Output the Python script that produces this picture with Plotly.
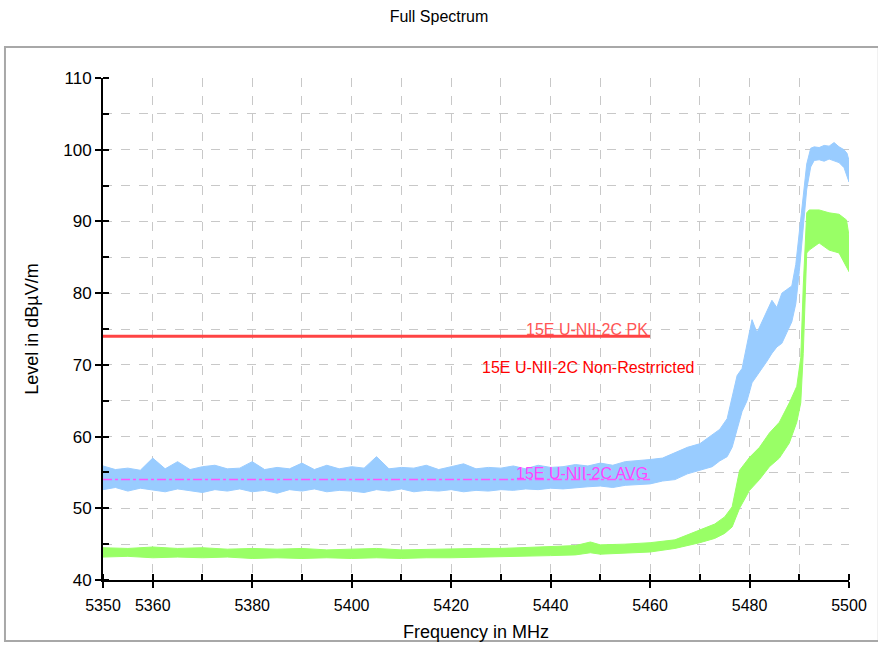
import plotly.graph_objects as go

# ---- data ----
pk_freq = [5350, 5352.5, 5355, 5357.5, 5360, 5362.5, 5365, 5367.5, 5370, 5372.5, 5375, 5377.5,
           5380, 5382.5, 5385, 5387.5, 5390, 5392.5, 5395, 5397.5, 5400, 5402.5, 5405, 5407.5,
           5410, 5412.5, 5415, 5417.5, 5420, 5422.5, 5425, 5427.5, 5430, 5432.5, 5435, 5437.5,
           5440, 5442.5, 5445, 5447.5, 5450, 5452.5, 5455, 5457.5, 5460,
           5462.5, 5465, 5467.5, 5470, 5472.5, 5474, 5475.5, 5476.5, 5477.5, 5478.5, 5479.5,
           5480.5, 5481.5, 5482.5, 5483.5, 5484.5, 5485.5, 5486.5, 5487.5, 5488.5, 5489.3,
           5490, 5490.8, 5491.5, 5492.3, 5493, 5494, 5495, 5496, 5497, 5498, 5499, 5499.6, 5500]
pk_hi = [55.9, 55.4, 55.6, 55.3, 57.0, 55.5, 56.5, 55.4, 55.8, 56.0, 55.5, 55.6,
         56.5, 55.4, 55.7, 55.5, 56.3, 55.4, 56.0, 55.5, 55.8, 55.6, 57.2, 55.5,
         55.7, 55.6, 56.0, 55.4, 55.8, 56.2, 55.5, 55.7, 55.6, 55.9, 55.5, 56.0,
         55.7, 55.8, 56.1, 55.9, 56.3, 56.0, 56.5, 56.6, 56.8,
         57.0, 57.7, 58.5, 59.0, 60.3, 61.0, 62.5, 65.5, 68.5, 69.5, 73.0,
         76.3, 74.5, 76.0, 77.5, 79.0, 78.0, 80.0, 80.5, 81.0, 84.0,
         88.5, 94.0, 98.0, 100.2, 100.4, 100.3, 100.6, 100.5, 101.0, 100.4, 100.0, 99.5, 98.5]
pk_lo = [52.6, 52.9, 52.4, 52.8, 52.5, 52.3, 52.7, 52.5, 52.2, 52.6, 52.4, 52.7,
         52.3, 52.5, 52.1, 52.6, 52.4, 52.7, 52.3, 52.5, 52.4, 52.2, 52.6, 52.4,
         52.7, 52.3, 52.5, 52.4, 52.6, 52.3, 52.5, 52.4, 52.6, 52.5, 52.7, 52.6,
         52.8, 52.7, 52.9, 53.0, 53.1, 52.9, 53.2, 53.3, 53.4,
         53.8, 54.0, 54.8, 55.3, 55.8, 56.6, 57.2, 58.5, 61.0, 63.5, 65.0,
         67.5, 68.5, 69.5, 70.5, 71.6, 72.5, 73.0, 74.5, 76.0, 78.5,
         83.0, 89.0, 94.5, 97.6, 98.5, 98.6, 98.4, 98.7, 98.5, 98.2, 97.5, 96.2, 95.5]

av_freq = [5350, 5355, 5360, 5365, 5370, 5375, 5380, 5385, 5390, 5395, 5400, 5405, 5410, 5415,
           5420, 5425, 5430, 5435, 5440, 5445, 5448, 5450, 5455, 5460, 5465, 5470, 5473, 5475,
           5476.5, 5478, 5480, 5482, 5484, 5486, 5488, 5489.5, 5490.3, 5490.8, 5491.5, 5492,
           5494, 5496, 5498, 5499.5, 5500]
av_hi = [44.5, 44.4, 44.6, 44.4, 44.5, 44.3, 44.4, 44.3, 44.4, 44.2, 44.3, 44.4, 44.2, 44.3,
         44.3, 44.4, 44.4, 44.5, 44.6, 44.8, 45.3, 44.9, 45.0, 45.2, 45.6, 47.0, 47.8, 48.8,
         50.2, 55.3, 57.1, 58.5, 60.5, 62.0, 64.7, 67.0, 71.0, 81.0, 91.2, 91.6,
         91.6, 91.2, 91.0, 90.2, 88.0]
av_lo = [43.2, 43.3, 43.1, 43.2, 43.1, 43.2, 43.0, 43.1, 43.0, 43.1, 43.0, 43.1, 43.0, 43.1,
         43.1, 43.2, 43.2, 43.3, 43.4, 43.5, 43.8, 43.6, 43.8, 43.9, 44.4, 45.2, 45.8, 46.5,
         47.4, 50.0, 52.5, 54.0, 55.8, 57.0, 59.1, 62.0, 64.7, 71.6, 85.6, 86.0,
         87.0, 86.0, 85.6, 83.6, 83.0]

limit_x = [5350, 5460]
pk_limit = 74
avg_limit = 54

x_ticks = list(range(5350, 5501, 10))
x_labels = ["5350", "5360", "", "5380", "", "5400", "", "5420", "", "5440", "", "5460", "",
            "5480", "", "5500"]
y_ticks = list(range(40, 111, 5))
y_labels = [str(v) if v % 10 == 0 else "" for v in y_ticks]

FONT = "Liberation Sans, Arial, sans-serif"

fig = go.Figure()

fig.add_trace(go.Scatter(
    x=pk_freq + pk_freq[::-1], y=pk_hi + pk_lo[::-1],
    fill="toself", fillcolor="#99ccff", mode="lines",
    line=dict(color="#99ccff", width=1), hoverinfo="skip", showlegend=False))

fig.add_trace(go.Scatter(
    x=av_freq + av_freq[::-1], y=av_hi + av_lo[::-1],
    fill="toself", fillcolor="#99ff66", mode="lines",
    line=dict(color="#99ff66", width=1), hoverinfo="skip", showlegend=False))

fig.add_trace(go.Scatter(
    x=limit_x, y=[avg_limit, avg_limit], mode="lines",
    line=dict(color="#ff55ff", width=1.5, dash="dashdot"), showlegend=False))

fig.add_trace(go.Scatter(
    x=limit_x, y=[pk_limit, pk_limit], mode="lines",
    line=dict(color="#ff4444", width=3), showlegend=False))

fig.add_annotation(x=limit_x[1], y=pk_limit, text="15E U-NII-2C PK", showarrow=False,
                   xanchor="right", yanchor="bottom", yshift=-4,
                   font=dict(family=FONT, size=16, color="#ff5555"))
fig.add_annotation(x=5469.5, y=69.6, text="15E U-NII-2C Non-Restrricted", showarrow=False,
                   xanchor="right", yanchor="middle",
                   font=dict(family=FONT, size=16, color="#ff0000"))
fig.add_annotation(x=limit_x[1], y=avg_limit, text="15E U-NII-2C AVG", showarrow=False,
                   xanchor="right", yanchor="bottom", yshift=-4,
                   font=dict(family=FONT, size=16, color="#ff44ff"))

# outer frame
fig.add_shape(type="rect", xref="paper", yref="paper",
              x0=-0.1314, x1=1.04, y0=-0.1215, y1=1.0618,
              line=dict(color="#a8a8a8", width=2), layer="below")

fig.update_layout(
    width=878, height=646,
    margin=dict(l=103, r=29, t=78, b=66),
    paper_bgcolor="white", plot_bgcolor="white",
    font=dict(family=FONT, size=16, color="black"),
    title=dict(text="Full Spectrum", x=0.5, xref="container", xanchor="center",
               y=1 - 16 / 646, yref="container", yanchor="middle",
               font=dict(family=FONT, size=16, color="black")),
    showlegend=False,
)

fig.update_xaxes(
    range=[5350, 5500], tickmode="array", tickvals=x_ticks, ticktext=x_labels,
    automargin=False,
    showline=True, linecolor="black", linewidth=2, mirror=False,
    ticks="outside", ticklen=6, tickwidth=1.5, tickcolor="black",
    minor=dict(ticks="inside", ticklen=6, tickwidth=1.5, tickcolor="black",
               tickmode="array", tickvals=x_ticks, showgrid=False),
    ticklabelstandoff=4,
    showgrid=True, gridcolor="#c8c8c8", gridwidth=1, griddash="dash",
    zeroline=False,
    title=dict(text="Frequency in MHz", font=dict(family=FONT, size=18), standoff=12),
    tickfont=dict(family=FONT, size=16),
)
fig.update_yaxes(
    range=[40, 110], tickmode="array", tickvals=y_ticks, ticktext=y_labels,
    automargin=False,
    showline=True, linecolor="black", linewidth=2, mirror=False,
    ticks="outside", ticklen=6, tickwidth=1.5, tickcolor="black",
    minor=dict(ticks="inside", ticklen=6, tickwidth=1.5, tickcolor="black",
               tickmode="array", tickvals=y_ticks, showgrid=False),
    showgrid=True, gridcolor="#c8c8c8", gridwidth=1, griddash="dash",
    zeroline=False,
    title=dict(text="Level in dBµV/m", font=dict(family=FONT, size=18), standoff=20),
    tickfont=dict(family=FONT, size=17),
)

fig.write_html("out.html", post_script="document.body.style.margin='0';",
               config={"displayModeBar": False})
